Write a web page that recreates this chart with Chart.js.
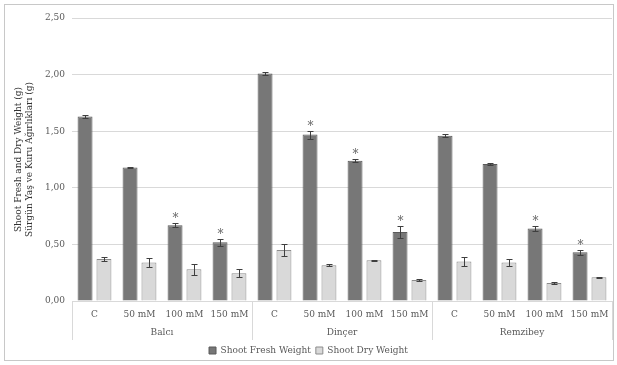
<!DOCTYPE html>
<html>
<head>
<meta charset="utf-8">
<script src="https://cdn.jsdelivr.net/npm/chart.js@4.4.1/dist/chart.umd.min.js"></script>
<style>
  html, body { margin: 0; padding: 0; background: #fff; }
  #wrap { width: 617px; height: 365px; position: relative; }
</style>
</head>
<body>
<div id="wrap"><canvas id="chart" width="617" height="365"></canvas></div>
<script>
// Cultivars and NaCl doses
const cultivars = ['Balcı', 'Dinçer', 'Remzibey'];
const doses = ['C', '50 mM', '100 mM', '150 mM'];

// Shoot fresh weight (g) and standard errors, per cultivar × dose
const freshWeight = [1.63, 1.18, 0.67, 0.52, 2.01, 1.47, 1.24, 0.61, 1.46, 1.21, 0.64, 0.43];
const freshError  = [0.015, 0.005, 0.015, 0.03, 0.01, 0.035, 0.015, 0.05, 0.015, 0.005, 0.02, 0.02];
// Shoot dry weight (g) and standard errors
const dryWeight   = [0.37, 0.34, 0.28, 0.245, 0.45, 0.315, 0.36, 0.185, 0.35, 0.34, 0.16, 0.21];
const dryError    = [0.02, 0.04, 0.05, 0.035, 0.05, 0.01, 0.005, 0.01, 0.04, 0.03, 0.01, 0.005];
// Significant difference from control (fresh weight)
const freshSignificant = [false, false, true, true, false, true, true, true, false, false, true, true];

const yTicks = [0, 0.5, 1.0, 1.5, 2.0, 2.5];

const labels = [];
cultivars.forEach(() => doses.forEach(d => labels.push(d)));

const FONT = 'DejaVu Serif';
const TEXT = '#595959';

// Error bars and significance marks
const errorBarPlugin = {
  id: 'errorBars',
  afterDatasetsDraw(chart) {
    const ctx = chart.ctx;
    const y = chart.scales.y;
    const errs = [freshError, dryError];
    ctx.save();
    chart.data.datasets.forEach((ds, di) => {
      const meta = chart.getDatasetMeta(di);
      meta.data.forEach((bar, i) => {
        const v = ds.data[i], e = errs[di][i];
        const yt = Math.round(y.getPixelForValue(v + e)) + 0.5;
        const yb = Math.round(y.getPixelForValue(v - e)) + 0.5;
        const x = Math.round(bar.x) + 0.5;
        ctx.strokeStyle = '#3f3f3f';
        ctx.lineWidth = 1;
        ctx.beginPath();
        ctx.moveTo(x, yt); ctx.lineTo(x, yb);
        ctx.moveTo(x - 3, yt); ctx.lineTo(x + 3, yt);
        ctx.moveTo(x - 3, yb); ctx.lineTo(x + 3, yb);
        ctx.stroke();
        if (di === 0 && freshSignificant[i]) {
          ctx.fillStyle = '#666';
          ctx.font = '12px ' + FONT;
          ctx.textAlign = 'center';
          ctx.textBaseline = 'middle';
          ctx.fillText('*', x, yt - 5);
        }
      });
    });
    ctx.restore();
  }
};

// Cultivar group labels and separators below the dose labels
const groupAxisPlugin = {
  id: 'groupAxis',
  afterDraw(chart) {
    const ctx = chart.ctx;
    const x = chart.scales.x;
    const top = chart.chartArea.bottom;
    ctx.save();
    ctx.strokeStyle = '#d9d9d9';
    ctx.lineWidth = 1;
    for (let g = 0; g <= cultivars.length; g++) {
      const px = Math.round(x.getPixelForValue(g * doses.length - 0.5)) + 0.5;
      ctx.beginPath();
      ctx.moveTo(px, top);
      ctx.lineTo(px, top + 39);
      ctx.stroke();
    }
    ctx.fillStyle = TEXT;
    ctx.font = '9px ' + FONT;
    ctx.textAlign = 'center';
    ctx.textBaseline = 'middle';
    cultivars.forEach((c, g) => {
      const px = x.getPixelForValue(g * doses.length + (doses.length - 1) / 2);
      ctx.fillText(c, px, top + 32);
    });
    ctx.restore();
  }
};

// White background with a thin outer frame
const framePlugin = {
  id: 'frame',
  beforeDraw(chart) {
    const ctx = chart.ctx;
    ctx.save();
    ctx.fillStyle = '#fff';
    ctx.fillRect(0, 0, chart.width, chart.height);
    ctx.strokeStyle = '#c8c8c8';
    ctx.lineWidth = 1;
    ctx.strokeRect(4.5, 4.5, 609, 356);
    ctx.restore();
  }
};

new Chart(document.getElementById('chart'), {
  type: 'bar',
  data: {
    labels: labels,
    datasets: [
      {
        label: 'Shoot Fresh Weight',
        data: freshWeight,
        backgroundColor: '#777777',
        borderColor: '#5a5a5a',
        borderWidth: 1,
        barPercentage: 0.79,
        categoryPercentage: 0.84
      },
      {
        label: 'Shoot Dry Weight',
        data: dryWeight,
        backgroundColor: '#d9d9d9',
        borderColor: '#8c8c8c',
        borderWidth: 1,
        barPercentage: 0.79,
        categoryPercentage: 0.84
      }
    ]
  },
  options: {
    responsive: false,
    animation: false,
    layout: { padding: { left: 5, right: 5, top: 18, bottom: 0 } },
    plugins: {
      legend: {
        position: 'bottom',
        labels: {
          boxWidth: 7,
          boxHeight: 7,
          padding: 5,
          color: TEXT,
          font: { family: FONT, size: 9 },
          generateLabels(chart) {
            return chart.data.datasets.map((ds, i) => ({
              text: ds.label,
              fillStyle: ds.backgroundColor,
              strokeStyle: ds.borderColor,
              lineWidth: 1,
              datasetIndex: i,
              fontColor: TEXT
            }));
          }
        }
      },
      tooltip: { enabled: false }
    },
    scales: {
      x: {
        grid: { display: false, drawTicks: false },
        border: { display: true, color: '#d9d9d9' },
        ticks: {
          color: TEXT,
          font: { family: FONT, size: 9 },
          padding: 8,
          maxRotation: 0,
          autoSkip: false
        },
        afterFit(scale) { scale.height = 40; }
      },
      y: {
        min: 0,
        max: 2.5,
        afterBuildTicks(scale) { scale.ticks = yTicks.map(v => ({ value: v })); },
        grid: { color: '#d9d9d9', drawTicks: false },
        border: { display: false },
        ticks: {
          color: TEXT,
          padding: 7,
          font: { family: FONT, size: 9 },
          callback: v => v.toFixed(2).replace('.', ',')
        },
        title: {
          display: true,
          text: ['Shoot Fresh and Dry Weight (g)', 'Sürgün Yaş ve Kuru Ağırlıkları (g)'],
          color: '#333333',
          font: { family: FONT, size: 9 },
          padding: { top: 8, bottom: 0 }
        },
        afterFit(scale) { scale.width = 67; }
      }
    }
  },
  plugins: [framePlugin, errorBarPlugin, groupAxisPlugin]
});
</script>
</body>
</html>
